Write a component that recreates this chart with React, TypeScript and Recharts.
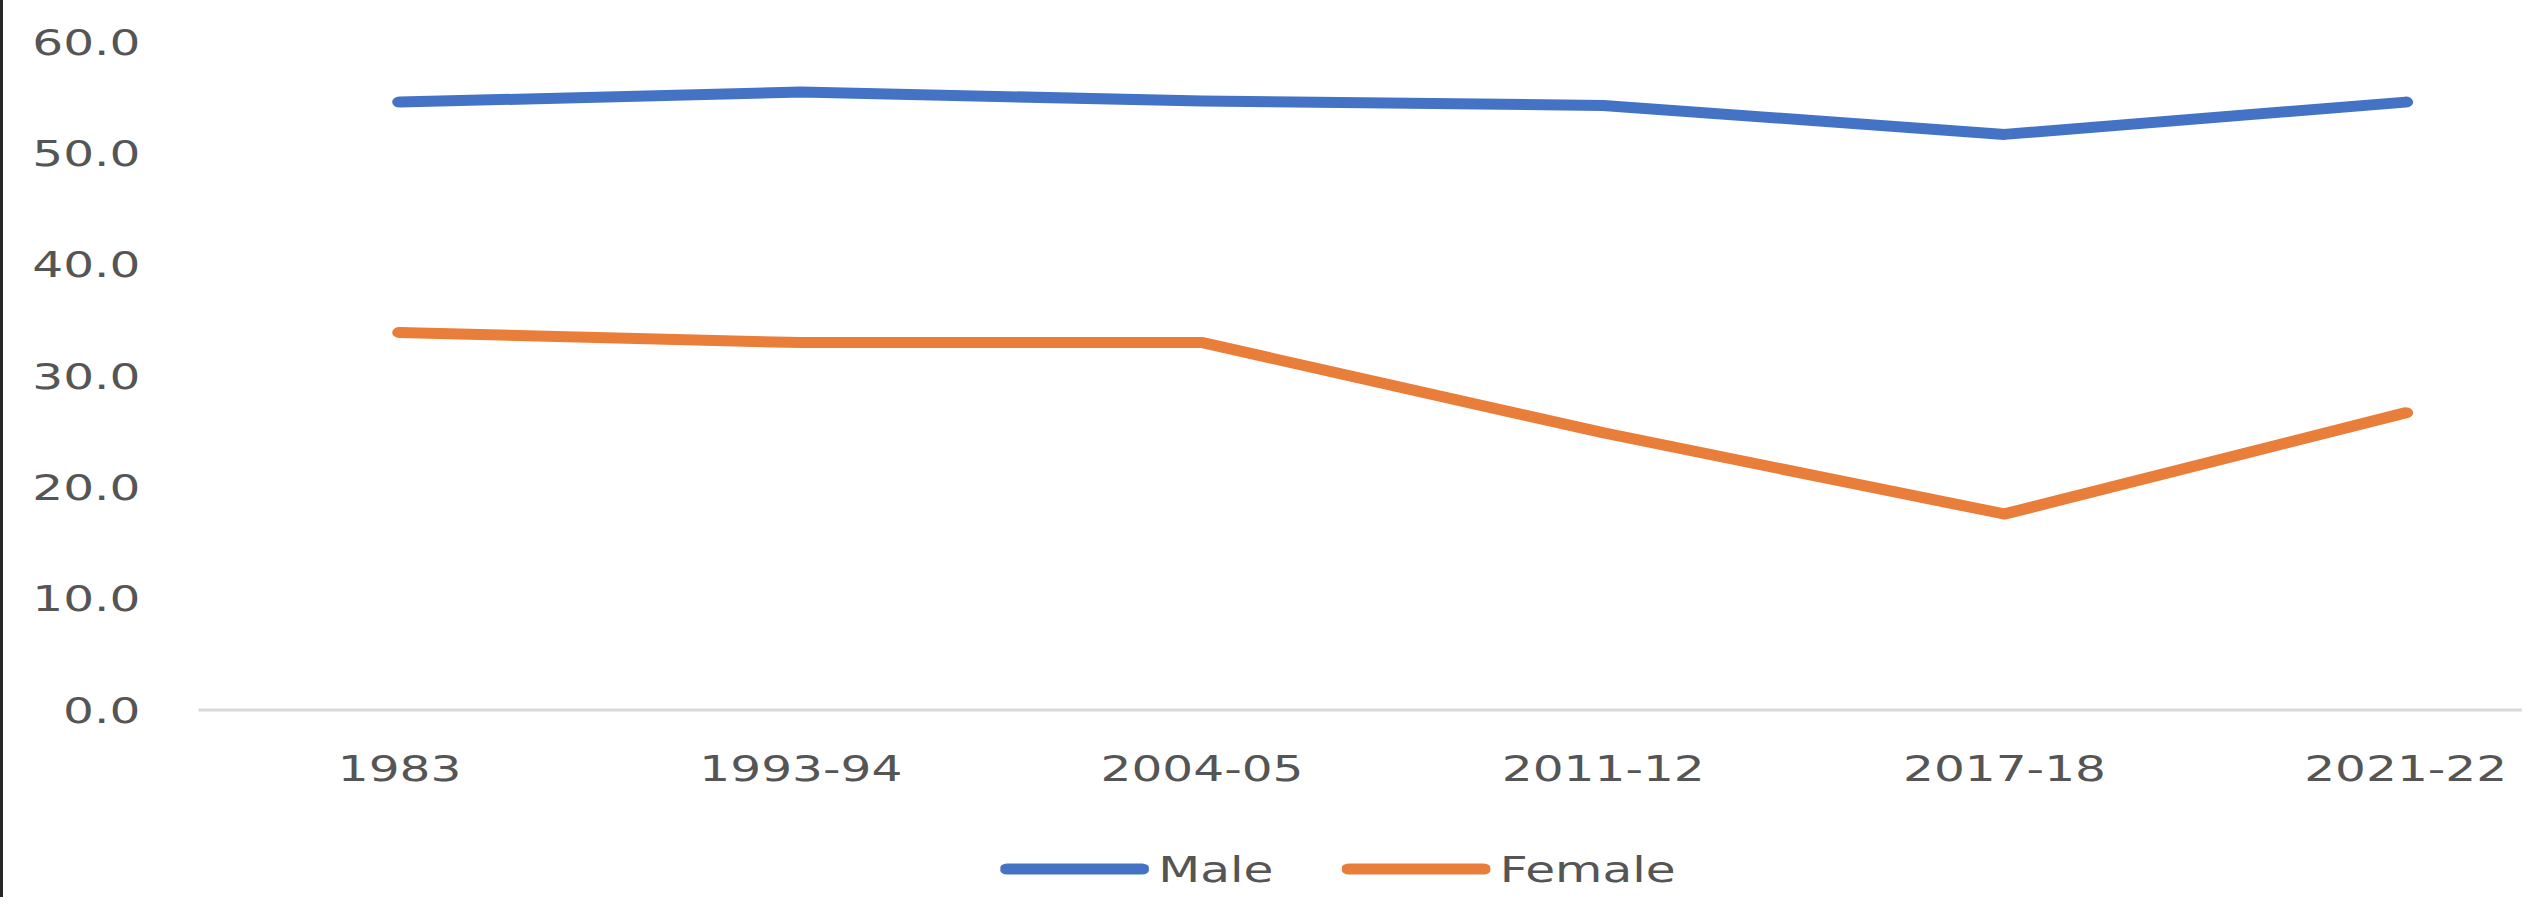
import { LineChart, Line, XAxis, YAxis, Legend } from 'recharts';

// survey rounds on the x axis
const periods = ['1983', '1993-94', '2004-05', '2011-12', '2017-18', '2021-22'];
// values
const maleValues = [54.6, 55.5, 54.7, 54.3, 51.7, 54.6];
const femaleValues = [33.9, 33.0, 33.0, 24.9, 17.6, 26.7];
const yTicks = [0, 10, 20, 30, 40, 50, 60];

const rows = periods.map((period, i) => ({
  period,
  male: maleValues[i],
  female: femaleValues[i],
}));

const BLUE = '#4472C4';
const ORANGE = '#E97D3A';
const TEXT = '#555555';
const FONT = '"DejaVu Sans", sans-serif';

// the source picture is stretched sideways, so the whole chart is drawn narrow and widened
const STRETCH = 1.35;
const W = 2536;
const H = 904;
const INNER_W = Math.round(W / STRETCH);

const legendItems = [
  { key: 'male', label: 'Male', color: BLUE, width: 253 },
  { key: 'female', label: 'Female', color: ORANGE, width: 0 },
];

function ChartLegend() {
  return (
    <div style={{ height: 60, display: 'flex', alignItems: 'center', paddingLeft: 741 }}>
      {legendItems.map((item) => (
        <div
          key={item.key}
          style={{
            display: 'flex',
            alignItems: 'center',
            width: item.width || undefined,
            fontFamily: FONT,
            fontSize: 36,
            color: TEXT,
          }}
        >
          <svg width={110} height={20} style={{ marginRight: 7 }}>
            <line x1={5} y1={10} x2={105} y2={10} stroke={item.color} strokeWidth={11} strokeLinecap="round" />
          </svg>
          <span>{item.label}</span>
        </div>
      ))}
    </div>
  );
}

export default function App() {
  return (
    <div style={{ position: 'absolute', left: 0, top: 0, width: W, height: H, background: '#fff', overflow: 'hidden' }}>
      <div style={{ position: 'absolute', left: 0, top: 0, width: 3, height: 897, background: '#262626' }} />
      <div style={{ position: 'absolute', left: 0, top: 0, width: INNER_W, height: H, transform: `scaleX(${STRETCH})`, transformOrigin: '0 0' }}>
        <LineChart width={INNER_W} height={H} data={rows} margin={{ top: 42, right: 11, left: 0, bottom: 5 }}>
          <XAxis
            dataKey="period"
            padding={{ left: 149, right: 86 }}
            axisLine={{ stroke: '#D9D9D9', strokeWidth: 3 }}
            tickLine={false}
            tickSize={0}
            tickMargin={45}
            height={129}
            interval={0}
            tick={{ fontSize: 36, fill: TEXT, fontFamily: FONT }}
          />
          <YAxis
            width={147}
            domain={[0, 60]}
            ticks={yTicks}
            tickFormatter={(v) => v.toFixed(1)}
            axisLine={false}
            tickLine={false}
            tickSize={0}
            tickMargin={43}
            tick={{ fontSize: 36, fill: TEXT, fontFamily: FONT }}
          />
          <Legend verticalAlign="bottom" content={() => <ChartLegend />} />
          <Line
            type="linear"
            dataKey="male"
            name="Male"
            stroke={BLUE}
            strokeWidth={11}
            strokeLinecap="round"
            strokeLinejoin="round"
            dot={false}
            activeDot={false}
            isAnimationActive={false}
          />
          <Line
            type="linear"
            dataKey="female"
            name="Female"
            stroke={ORANGE}
            strokeWidth={11}
            strokeLinecap="round"
            strokeLinejoin="round"
            dot={false}
            activeDot={false}
            isAnimationActive={false}
          />
        </LineChart>
      </div>
    </div>
  );
}
